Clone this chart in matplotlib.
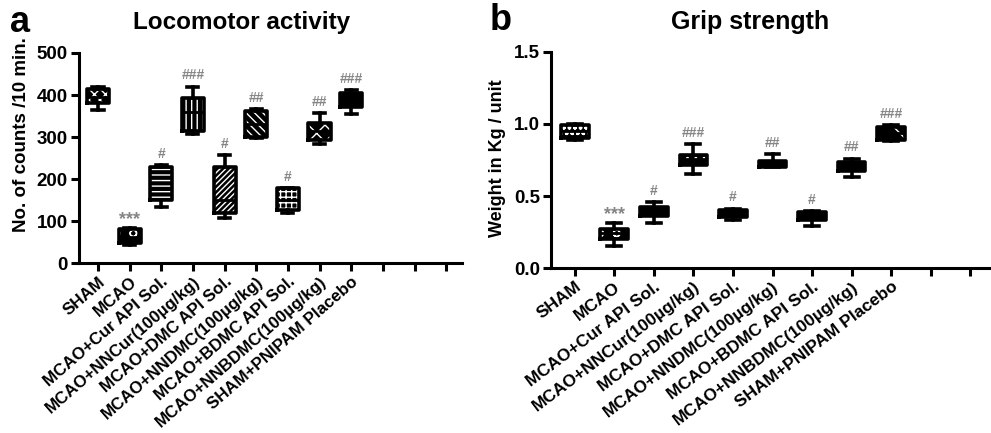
import matplotlib
matplotlib.use('Agg')
import matplotlib.pyplot as plt

plt.rcParams['font.family'] = ['Liberation Sans', 'DejaVu Sans']
plt.rcParams['font.weight'] = 'bold'
plt.rcParams['hatch.linewidth'] = 1.0

groups = ['SHAM', 'MCAO', 'MCAO+Cur API Sol.', 'MCAO+NNCur(100µg/kg)',
          'MCAO+DMC API Sol.', 'MCAO+NNDMC(100µg/kg)', 'MCAO+BDMC API Sol.',
          'MCAO+NNBDMC(100µg/kg)', 'SHAM+PNIPAM Placebo']
n_ticks = 12

# Locomotor activity (counts / 10 min)
loco_lo = [365, 42, 134, 307, 106, 297, 118, 283, 355]
loco_q1 = [381, 47, 150, 315, 118, 301, 126, 293, 371]
loco_med = [395, 63, 190, 360, 150, 330, 150, 315, 390]
loco_q3 = [414, 80, 229, 394, 229, 361, 178, 333, 404]
loco_hi = [419, 84, 233, 420, 256, 366, 178, 357, 411]
loco_sig = ['', '***', '#', '###', '#', '##', '#', '##', '###']

# Grip strength (kg / unit)
grip_lo = [0.89, 0.15, 0.31, 0.65, 0.33, 0.70, 0.29, 0.63, 0.88]
grip_q1 = [0.90, 0.20, 0.36, 0.715, 0.355, 0.70, 0.33, 0.675, 0.89]
grip_med = [0.95, 0.24, 0.40, 0.76, 0.38, 0.72, 0.36, 0.71, 0.94]
grip_q3 = [0.99, 0.27, 0.425, 0.785, 0.405, 0.74, 0.387, 0.733, 0.98]
grip_hi = [1.0, 0.31, 0.455, 0.86, 0.413, 0.79, 0.397, 0.76, 0.99]
grip_sig = ['', '***', '#', '###', '#', '##', '#', '##', '###']

loco_hatch = ['xxx', 'o', '---', '|||', '//////', '\\\\\\\\', '+++', 'xx', '\\']
grip_hatch = ['ooo', 'o', '', '..', '', '', '', '', '\\']


def draw_panel(ax, lo, q1, med, q3, hi, sig, hatches, yticks, fmt, rot, lab_size):
    stats = [dict(whislo=a, q1=b, med=c, q3=d, whishi=e, fliers=[])
             for a, b, c, d, e in zip(lo, q1, med, q3, hi)]
    pos = list(range(len(stats)))
    bp = ax.bxp(stats, positions=pos, widths=0.7, patch_artist=True,
                showcaps=False, boxprops=dict(linewidth=0),
                whiskerprops=dict(linewidth=0), medianprops=dict(linewidth=0))
    for box, h in zip(bp['boxes'], hatches):
        box.set_facecolor('black')
        box.set_edgecolor('white')
        box.set_hatch(h)
    ax.bxp(stats, positions=pos, widths=0.7, capwidths=0.35,
           boxprops=dict(color='black', linewidth=2.6),
           whiskerprops=dict(color='black', linewidth=2.6),
           capprops=dict(color='black', linewidth=2.6),
           medianprops=dict(color='black', linewidth=2.0))
    for i, s in enumerate(sig):
        if s:
            # asterisks are small in this font, so bump their size
            fs = 13 if '*' in s else 10
            dy = 0 if '*' in s else 3
            ax.annotate(s, (i, hi[i]), xytext=(0, dy), textcoords='offset points',
                        ha='center', va='bottom', fontsize=fs, color='#858585')
    ax.set_xlim(-0.6, n_ticks - 0.5)
    ax.set_xticks(range(n_ticks))
    ax.set_xticklabels(groups + [''] * (n_ticks - len(groups)), rotation=rot,
                       ha='right', va='top', rotation_mode='anchor', fontsize=lab_size)
    ax.set_ylim(yticks[0], yticks[-1])
    ax.set_yticks(yticks)
    ax.set_yticklabels([fmt.format(v) for v in yticks], fontsize=13.5)
    ax.spines['top'].set_visible(False)
    ax.spines['right'].set_visible(False)
    ax.spines['left'].set_linewidth(2.2)
    ax.spines['bottom'].set_linewidth(2.2)
    ax.tick_params(axis='both', direction='out', length=6, width=2.2, pad=2)


fig = plt.figure(figsize=(9.91, 4.33), dpi=100)

ax1 = fig.add_axes([0.0797, 0.3926, 0.3865, 0.485])
draw_panel(ax1, loco_lo, loco_q1, loco_med, loco_q3, loco_hi, loco_sig, loco_hatch,
           [0, 100, 200, 300, 400, 500], '{:d}', 41, 12.2)

ax2 = fig.add_axes([0.556, 0.381, 0.483, 0.499])
draw_panel(ax2, grip_lo, grip_q1, grip_med, grip_q3, grip_hi, grip_sig, grip_hatch,
           [0.0, 0.5, 1.0, 1.5], '{:.1f}', 37, 12.5)

fig.text(22 / 991, 1 - 135 / 433, 'No. of counts /10 min.', rotation=90,
         ha='center', va='center', fontsize=13.5)
fig.text(498 / 991, 1 - 158 / 433, 'Weight in Kg / unit', rotation=90,
         ha='center', va='center', fontsize=13)

fig.text(242 / 991, 1 - 23 / 433, 'Locomotor activity', ha='center', va='center', fontsize=17.5)
fig.text(750 / 991, 1 - 22 / 433, 'Grip strength', ha='center', va='center', fontsize=18)
fig.text(10 / 991, 1 - 22 / 433, 'a', ha='left', va='center', fontsize=26)
fig.text(490 / 991, 1 - 20 / 433, 'b', ha='left', va='center', fontsize=26)

fig.savefig('out.png', dpi=100)
